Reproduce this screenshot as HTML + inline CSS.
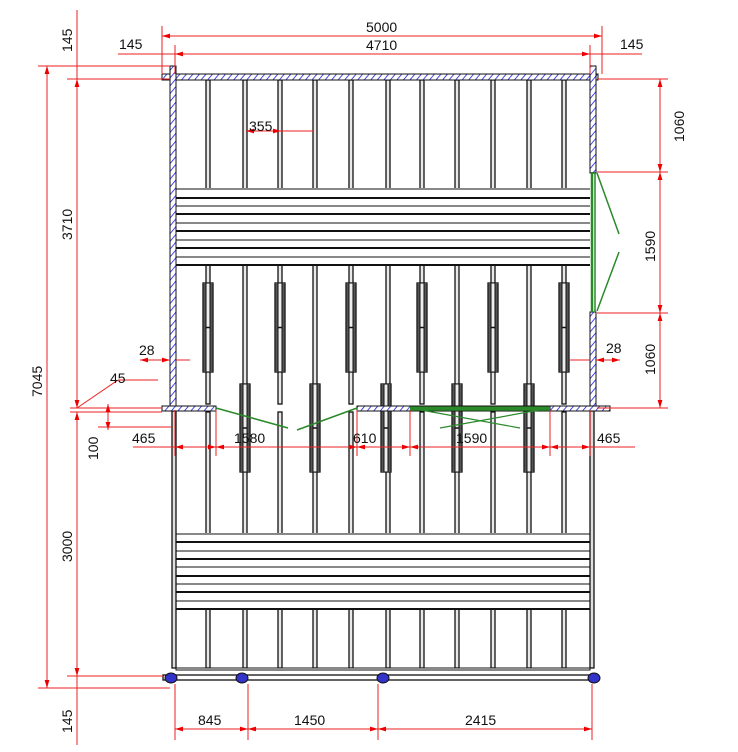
<!DOCTYPE html>
<html><head><meta charset="utf-8"><style>
html,body{margin:0;padding:0;background:#fff;}
svg{display:block}
text{font-family:"Liberation Sans",sans-serif;font-size:14px;fill:#111}
</style></head><body>
<svg id="s" width="738" height="752" viewBox="0 0 738 752" xmlns="http://www.w3.org/2000/svg">
<defs>
<pattern id="h" width="5" height="5" patternUnits="userSpaceOnUse" patternTransform="rotate(40)">
<rect width="5" height="5" fill="#fff"/><line x1="0" y1="0" x2="0" y2="5" stroke="#1a1ae0" stroke-width="1.6"/>
</pattern>
<marker id="a" viewBox="0 0 10 6" refX="10" refY="3" markerWidth="8" markerHeight="5" orient="auto-start-reverse"><path d="M0,0L10,3L0,6z" fill="#e00"/></marker>
</defs>
<g id="geo"></g>
<g id="dim" stroke="#e22" stroke-width="1" fill="none"></g>
<g id="lbl">
<text x="366" y="32">5000</text>
<text x="119" y="49">145</text>
<text x="366" y="50">4710</text>
<text x="620" y="49">145</text>
<text x="249" y="131">355</text>
<text x="139" y="355">28</text>
<text x="606" y="353">28</text>
<text x="110" y="383">45</text>
<text x="132" y="443">465</text>
<text x="234" y="443">1580</text>
<text x="353" y="443">610</text>
<text x="456" y="443">1590</text>
<text x="597" y="443">465</text>
<text x="198" y="725">845</text>
<text x="294" y="725">1450</text>
<text x="465" y="725">2415</text>
<text transform="translate(72,52) rotate(-90)">145</text>
<text transform="translate(72,240) rotate(-90)">3710</text>
<text transform="translate(42,397) rotate(-90)">7045</text>
<text transform="translate(98,460) rotate(-90)">100</text>
<text transform="translate(72,562) rotate(-90)">3000</text>
<text transform="translate(72,733) rotate(-90)">145</text>
<text transform="translate(684,142) rotate(-90)">1060</text>
<text transform="translate(655,262) rotate(-90)">1590</text>
<text transform="translate(655,375) rotate(-90)">1060</text>
</g>
</svg>
<script>
var NS="http://www.w3.org/2000/svg",G=document.getElementById("geo"),D=document.getElementById("dim");
function el(p,t,a){var e=document.createElementNS(NS,t);for(var k in a)e.setAttribute(k,a[k]);p.appendChild(e);return e;}
function L(p,x1,y1,x2,y2,c,w){return el(p,"line",{x1:x1,y1:y1,x2:x2,y2:y2,stroke:c||"#111","stroke-width":w||1});}
var posts=[206,243,278,313,349,386,420,455,491,527,562];
function postSeg(y1,y2){posts.forEach(function(x){el(G,"rect",{x:x,y:y1,width:4,height:y2-y1,fill:"#e8e8e8",stroke:"#111","stroke-width":1.3});});}
postSeg(80,189);postSeg(265,404);postSeg(412,534);postSeg(609,668);
function band(y0,ys){el(G,"rect",{x:176,y:y0,width:414,height:ys[ys.length-1]-y0,fill:"#fff"});
ys.forEach(function(y,i){L(G,176,y,590,y,i%2?"#111":"#888",2);});}
band(189,[189,198,206,214,223,231,240,248,257,265]);
band(534,[534,542,551,559,567,576,584,592,601,609]);
function hang(x,y1,y2){el(G,"rect",{x:x-3,y:y1,width:10,height:y2-y1,fill:"#fff",stroke:"#111","stroke-width":1.3});
L(G,x-1,y1,x-1,y2,"#555",3);L(G,x+5,y1,x+5,y2,"#555",3);el(G,"rect",{x:x,y:y1,width:4,height:y2-y1,fill:"#eee",stroke:"#111","stroke-width":1});L(G,x,(y1+y2)/2,x+4,(y1+y2)/2,"#111",1.5);}
[206,278,349,420,491,562].forEach(function(x){hang(x,283,372);});
[243,313,384,455,527].forEach(function(x){hang(x,384,472);});
el(G,"rect",{x:172,y:411,width:4,height:257,fill:"#ddd",stroke:"#111","stroke-width":1.3});
el(G,"rect",{x:590,y:411,width:4,height:257,fill:"#ddd",stroke:"#111","stroke-width":1.3});
el(G,"rect",{x:176,y:668,width:414,height:2,fill:"#fff",stroke:"#111"});
el(G,"rect",{x:163,y:675,width:435,height:5,fill:"#fff",stroke:"#111","stroke-width":1.3});
function H(x,y,w,h){el(G,"rect",{x:x,y:y,width:w,height:h,fill:"url(#h)",stroke:"#111","stroke-width":1});}
H(162,74,436,6);H(170,66,6,342);H(590,66,6,107);H(590,312,6,96);
H(162,406,54,5);H(357,406,193,5);H(550,406,60,5);
var g="#2a8a2a";
L(G,216,408,288,428,g,1.5);L(G,297,430,357,408,g,1.5);
L(G,410,408,550,408,g,3);L(G,410,410,550,410,g,1.5);L(G,410,408,520,428,g,1.2);L(G,550,408,440,428,g,1.2);
L(G,592,172,592,312,g,2.5);L(G,595,172,595,312,g,1.5);L(G,597,173,619,234,g,1.5);L(G,619,252,597,311,g,1.5);
[171,242,383,594].forEach(function(x){el(G,"ellipse",{cx:x,cy:678,rx:6,ry:5,fill:"#3333cc",stroke:"#111"});});
function A(x1,y1,x2,y2){var e=L(D,x1,y1,x2,y2,"#e22",1);e.setAttribute("marker-start","url(#a)");e.setAttribute("marker-end","url(#a)");}
function R(x1,y1,x2,y2){L(D,x1,y1,x2,y2,"#e22",1);}
R(162,26,162,74);R(175,45,175,74);R(590,45,590,74);R(602,26,602,74);
A(162,36,602,36);A(175,54,590,54);R(118,54,175,54);R(590,54,642,54);
R(38,66,170,66);R(67,79,170,79);R(70,408,162,408);R(70,412,162,412);R(38,688,170,688);R(67,676,163,676);
A(47,66,47,688);A(77,79,77,408);A(77,412,77,676);R(77,10,77,79);R(77,676,77,745);
R(77,408,118,380);R(118,380,158,380);A(108,404,108,430);R(98,427,172,427);R(98,408,108,408);
R(597,79,668,79);R(597,172,668,172);R(597,313,668,313);R(597,408,668,408);
A(660,79,660,172);A(660,172,660,313);A(660,313,660,408);
A(140,360,170,360);R(176,360,190,360);A(620,360,596,360);R(590,360,570,360);
A(246,131,281,131);R(281,131,313,131);
R(133,447,635,447);
[175,216,357,410,550,590].forEach(function(x){R(x,410,x,456);});
A(216,447,175,447);A(357,447,216,447);A(410,447,357,447);A(550,447,410,447);A(590,447,550,447);
[175,248,378,592].forEach(function(x){R(x,684,x,740);});
A(175,729,248,729);A(248,729,378,729);A(378,729,592,729);
</script>
</body></html>
